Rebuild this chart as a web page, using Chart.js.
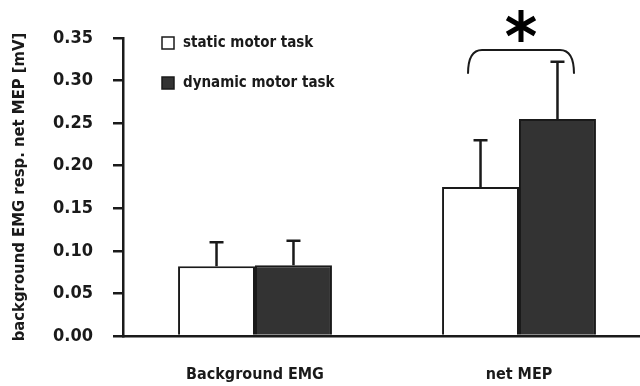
<!DOCTYPE html>
<html>
<head>
<meta charset="utf-8">
<script src="https://cdn.jsdelivr.net/npm/chart.js@4.4.0/dist/chart.umd.min.js"></script>
<style>
  html, body { margin: 0; padding: 0; background: #fff; overflow: hidden; }
  #wrap { width: 640px; height: 386px; overflow: hidden; }
</style>
</head>
<body>
<div id="wrap"><canvas id="emgChart" width="660" height="386"></canvas></div>
<script>
// data
const categories = ['Background EMG', 'net MEP'];
const staticMeans = [0.082, 0.175];
const staticSD = [0.028, 0.055];
const dynamicMeans = [0.083, 0.255];
const dynamicSD = [0.029, 0.067];
const yTicks = [0, 0.05, 0.10, 0.15, 0.20, 0.25, 0.30, 0.35];

const FONT = "'DejaVu Sans Condensed', 'DejaVu Sans', sans-serif";
const INK = '#1a1a1a';

// upward error bars drawn from the bar tops
const errorBars = {
    id: 'errorBars',
    afterDatasetsDraw(chart) {
        const ctx = chart.ctx;
        const y = chart.scales.y;
        const sds = [staticSD, dynamicSD];
        ctx.save();
        ctx.strokeStyle = INK;
        ctx.lineWidth = 2.5;
        chart.data.datasets.forEach((ds, di) => {
            chart.getDatasetMeta(di).data.forEach((bar, i) => {
                const top = y.getPixelForValue(ds.data[i] + sds[di][i]);
                ctx.beginPath();
                ctx.moveTo(bar.x, bar.y);
                ctx.lineTo(bar.x, top);
                ctx.moveTo(bar.x - 7, top);
                ctx.lineTo(bar.x + 7, top);
                ctx.stroke();
            });
        });
        ctx.restore();
    }
};

// significance bracket + asterisk over net MEP
const significance = {
    id: 'significance',
    afterDatasetsDraw(chart) {
        const ctx = chart.ctx;
        const y = chart.scales.y;
        const cx = chart.scales.x.getPixelForValue(1) + 2;
        const top = y.getPixelForValue(0.336);
        const end = y.getPixelForValue(0.308);
        const half = 53, r = 7;
        ctx.save();
        ctx.strokeStyle = INK;
        ctx.lineWidth = 2;
        ctx.beginPath();
        ctx.moveTo(cx - half, end);
        ctx.quadraticCurveTo(cx - half, top, cx - half + r * 2, top);
        ctx.lineTo(cx + half - r * 2, top);
        ctx.quadraticCurveTo(cx + half, top, cx + half, end);
        ctx.stroke();
        // asterisk
        const ay = 26, len = 16;
        ctx.lineWidth = 5;
        ctx.strokeStyle = '#000';
        ctx.beginPath();
        [90, 30, 150].forEach(a => {
            const rad = a * Math.PI / 180;
            ctx.moveTo(cx - Math.cos(rad) * len, ay - Math.sin(rad) * len);
            ctx.lineTo(cx + Math.cos(rad) * len, ay + Math.sin(rad) * len);
        });
        ctx.stroke();
        ctx.restore();
    }
};

// legend boxes in upper left of the plot
const boxLegend = {
    id: 'boxLegend',
    afterDraw(chart) {
        const ctx = chart.ctx;
        ctx.save();
        ctx.font = 'bold 15px ' + FONT;
        ctx.textBaseline = 'middle';
        chart.data.datasets.forEach((ds, i) => {
            const yy = 43 + i * 40;
            ctx.fillStyle = ds.backgroundColor;
            ctx.fillRect(162, yy - 6, 12, 12);
            ctx.strokeStyle = INK;
            ctx.lineWidth = 1.5;
            ctx.strokeRect(162, yy - 6, 12, 12);
            ctx.fillStyle = INK;
            ctx.fillText(ds.label, 183, yy);
        });
        ctx.restore();
    }
};

new Chart(document.getElementById('emgChart'), {
    type: 'bar',
    data: {
        labels: categories,
        datasets: [
            {
                label: 'static motor task',
                data: staticMeans,
                backgroundColor: '#ffffff',
                borderColor: INK,
                borderWidth: 2
            },
            {
                label: 'dynamic motor task',
                data: dynamicMeans,
                backgroundColor: '#333333',
                borderColor: INK,
                borderWidth: 2
            }
        ]
    },
    options: {
        responsive: false,
        animation: false,
        events: [],
        layout: { padding: { top: 38, left: 10, right: 9, bottom: 0 } },
        categoryPercentage: 0.583,
        barPercentage: 1.0,
        plugins: {
            legend: { display: false },
            tooltip: { enabled: false }
        },
        scales: {
            x: {
                grid: { display: false, drawTicks: false },
                border: { display: true, color: INK, width: 2.5 },
                ticks: {
                    color: INK,
                    padding: 29,
                    font: { family: FONT, size: 16, weight: 'bold' }
                },
                afterFit(scale) { scale.height = 50; }
            },
            y: {
                min: 0,
                max: 0.35,
                afterBuildTicks(scale) { scale.ticks = yTicks.map(v => ({ value: v })); },
                grid: { drawOnChartArea: false, drawTicks: true, tickLength: 10, color: INK, lineWidth: 2.5 },
                border: { display: true, color: INK, width: 2.5 },
                ticks: {
                    color: INK,
                    padding: 20,
                    font: { family: FONT, size: 18, weight: 'bold' },
                    callback: v => v.toFixed(2)
                },
                title: {
                    display: true,
                    text: 'background EMG resp. net MEP [mV]',
                    color: INK,
                    padding: 0,
                    font: { family: FONT, size: 16.5, weight: 'bold' }
                },
                afterFit(scale) { scale.width = 113; }
            }
        }
    },
    plugins: [errorBars, significance, boxLegend]
});
</script>
</body>
</html>
